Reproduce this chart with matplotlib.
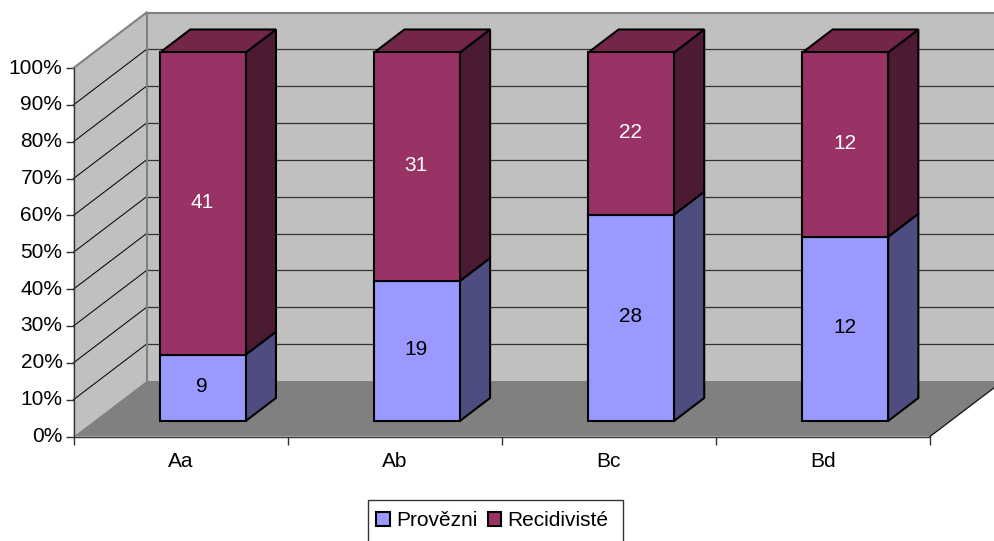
import matplotlib
matplotlib.use("Agg")
import matplotlib.pyplot as plt
from matplotlib.patches import Polygon, Patch, Rectangle
from matplotlib.transforms import ScaledTranslation
import numpy as np

plt.rcParams['font.family'] = ['Liberation Sans', 'DejaVu Sans']
plt.rcParams['font.size'] = 15

categories = ['Aa', 'Ab', 'Bc', 'Bd']
provezni = [9, 19, 28, 12]
recidiviste = [41, 31, 22, 12]
series_names = ['Provězni', 'Recidivisté']
y_ticks = list(range(0, 101, 10))

W, H = 994, 541
fig = plt.figure(figsize=(W / 100, H / 100), dpi=100, facecolor='white')
X0, X1, Y0, Y100 = 73.5, 930, 436.5, 68
ax = fig.add_axes([X0 / W, 1 - Y0 / H, (X1 - X0) / W, (Y0 - Y100) / H])
ax.set_xlim(0, len(categories))
ax.set_ylim(0, 100)
ax.patch.set_visible(False)

DX = 73 / ((X1 - X0) / len(categories))   # x units for full depth
DY = 55.5 / ((Y0 - Y100) / 100)           # y units for full depth
D0, D1 = 0.28, 0.694                      # bar depth range
WIDTH, SHIFT = 0.4, 0.009


def pj(x, pct, d):
    return (x + d * DX, pct + d * DY)


def poly(points, **kw):
    kw.setdefault('clip_on', False)
    ax.add_patch(Polygon(points, closed=True, **kw))


n = len(categories)
WALL, FLOOR, EDGE = '#C0C0C0', '#808080', '#808080'
# walls and floor
poly([pj(0, 0, 0), pj(0, 100, 0), pj(0, 100, 1), pj(0, 0, 1)], fc=WALL, ec='none', zorder=1)
poly([pj(0, 0, 1), pj(0, 100, 1), pj(n, 100, 1), pj(n, 0, 1)], fc=WALL, ec='none', zorder=1)
poly([pj(0, 0, 0), pj(0, 0, 1), pj(n, 0, 1), pj(n, 0, 0)], fc=FLOOR, ec='none', zorder=1)

# gridlines
for t in y_ticks[1:-1]:
    a, b, c = pj(0, t, 0), pj(0, t, 1), pj(n, t, 1)
    ax.plot([a[0], b[0]], [a[1], b[1]], color='#111111', lw=0.8, clip_on=False, zorder=2)
    ax.plot([b[0], c[0]], [b[1], c[1]], color='#333333', lw=0.9, clip_on=False, zorder=2)
# wall edges
for p, q in [(pj(0, 100, 0), pj(0, 100, 1)), (pj(0, 100, 1), pj(n, 100, 1)), (pj(0, 0, 1), pj(0, 100, 1))]:
    ax.plot([p[0], q[0]], [p[1], q[1]], color=EDGE, lw=1.5, clip_on=False, zorder=2, solid_capstyle='projecting')
p, q = pj(n, 0, 0), pj(n, 0, 1)
ax.plot([p[0], q[0]], [p[1], q[1]], color='#111111', lw=0.9, clip_on=False, zorder=2)

# bars
FRONT = ['#9999FF', '#993366']
SIDE = ['#4D4D80', '#4D1A33']
TOP = ['#7373BF', '#732649']
LBL = ['black', 'white']
BLACK = dict(ec='black', lw=1.5, joinstyle='miter')
for i in range(n):
    total = provezni[i] + recidiviste[i]
    vals = [provezni[i] / total * 100, recidiviste[i] / total * 100]
    raw = [provezni[i], recidiviste[i]]
    xl = i + 0.5 + SHIFT - WIDTH / 2
    xr = xl + WIDTH
    base = 0
    for k in range(2):
        v = vals[k]
        ax.bar(xl + D0 * DX, v, width=WIDTH, align='edge', bottom=base + D0 * DY,
               color=FRONT[k], zorder=5, clip_on=False,
               edgecolor='black', linewidth=1.5)
        poly([pj(xr, base, D0), pj(xr, base + v, D0), pj(xr, base + v, D1), pj(xr, base, D1)],
             fc=SIDE[k], zorder=4, **BLACK)
        ax.text(xl + D0 * DX + WIDTH / 2 - 0.004, base + v / 2 + D0 * DY + 0.35, str(raw[k]),
                ha='center', va='center', color=LBL[k], zorder=6)
        base += v
    poly([pj(xl, 100, D0), pj(xl, 100, D1), pj(xr, 100, D1), pj(xr, 100, D0)],
         fc=TOP[1], zorder=4, **BLACK)

# axes
ax.set_yticks(y_ticks)
ax.set_yticklabels([f'{t}%' for t in y_ticks])
ax.set_xticks(np.arange(n + 1))
ax.set_xticklabels([])
ax.set_xticks(np.arange(n) + 0.5, minor=True)
ax.set_xticklabels(categories, minor=True)
ax.tick_params(axis='x', which='minor', length=0, pad=11)
ax.tick_params(axis='x', which='major', length=6, width=1, color='#333333')
ax.tick_params(axis='y', length=6, width=1, color='#333333', pad=2)
up = ScaledTranslation(0, 2 / 100, fig.dpi_scale_trans)
for lab in ax.get_yticklabels():
    lab.set_transform(lab.get_transform() + up)
for s in ['top', 'right']:
    ax.spines[s].set_visible(False)
for s in ['left', 'bottom']:
    ax.spines[s].set_linewidth(1)
    ax.spines[s].set_color('#333333')
    ax.spines[s].set_zorder(3)

# legend
fig.add_artist(Rectangle((367.5 / W, -0.02), (623 - 367.5) / W, (541 - 500) / H + 0.02,
                         transform=fig.transFigure, fc='white', ec='#333333', lw=1, clip_on=True))
handles = [Patch(facecolor=FRONT[0], edgecolor='black', linewidth=1.5, label=series_names[0]),
           Patch(facecolor=FRONT[1], edgecolor='black', linewidth=1.5, label=series_names[1])]
fig.legend(handles=handles, loc='upper left', bbox_to_anchor=(376 / W, 1 - 511 / H),
           ncols=2, frameon=False, borderpad=0, borderaxespad=0, handlelength=0.65,
           handleheight=0.65, handletextpad=0.3, columnspacing=0.5, fontsize=15)

fig.savefig('out.png', dpi=100)
